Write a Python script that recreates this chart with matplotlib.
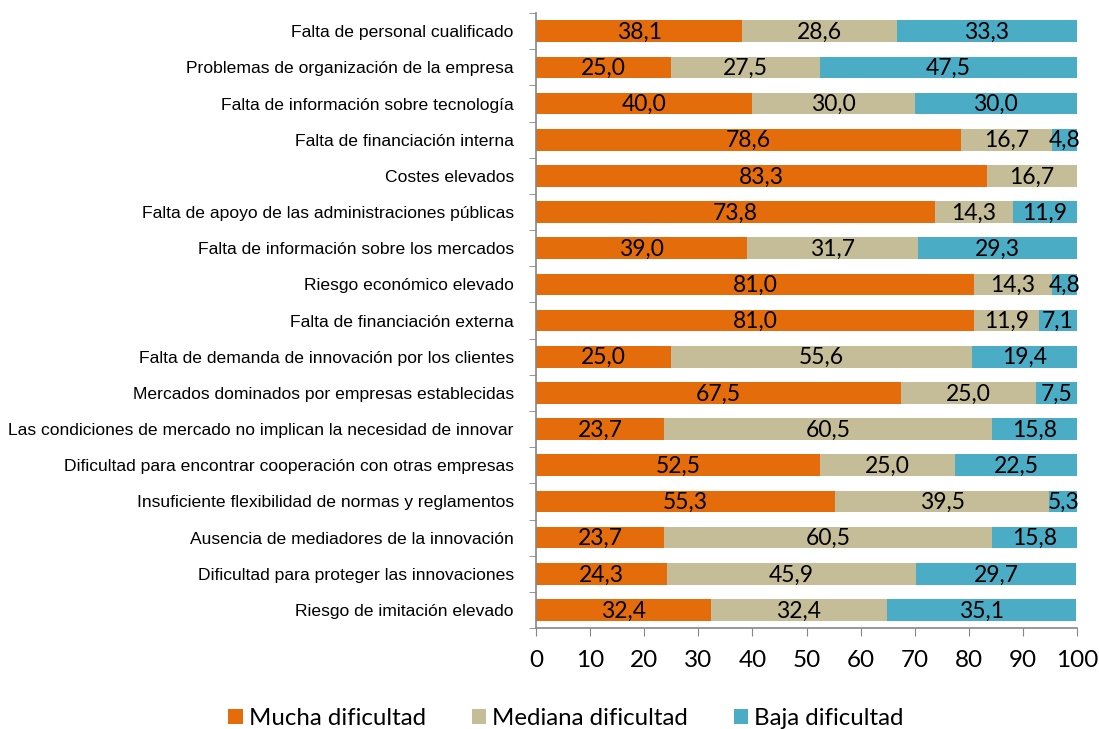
import matplotlib.pyplot as plt
import numpy as np

categories = [
    "Falta de personal cualificado",
    "Problemas de organización de la empresa",
    "Falta de información sobre tecnología",
    "Falta de financiación interna",
    "Costes elevados",
    "Falta de apoyo de las administraciones públicas",
    "Falta de información sobre los mercados",
    "Riesgo económico elevado",
    "Falta de financiación externa",
    "Falta de demanda de innovación por los clientes",
    "Mercados dominados por empresas establecidas",
    "Las condiciones de mercado no implican la necesidad de innovar",
    "Dificultad para encontrar cooperación con otras empresas",
    "Insuficiente flexibilidad de normas y reglamentos",
    "Ausencia de mediadores de la innovación",
    "Dificultad para proteger las innovaciones",
    "Riesgo de imitación elevado",
]
mucha = [38.1, 25.0, 40.0, 78.6, 83.3, 73.8, 39.0, 81.0, 81.0, 25.0, 67.5, 23.7, 52.5, 55.3, 23.7, 24.3, 32.4]
mediana = [28.6, 27.5, 30.0, 16.7, 16.7, 14.3, 31.7, 14.3, 11.9, 55.6, 25.0, 60.5, 25.0, 39.5, 60.5, 45.9, 32.4]
baja = [33.3, 47.5, 30.0, 4.8, 0.0, 11.9, 29.3, 4.8, 7.1, 19.4, 7.5, 15.8, 22.5, 5.3, 15.8, 29.7, 35.1]

series = [("Mucha dificultad", mucha, "#E46C0A"),
          ("Mediana dificultad", mediana, "#C4BD97"),
          ("Baja dificultad", baja, "#4BACC6")]

num_font = ["Lato", "DejaVu Sans"]
lab_font = ["Liberation Sans Narrow", "Liberation Sans", "DejaVu Sans"]

fig = plt.figure(figsize=(10.99, 7.29), dpi=100)
ax = fig.add_axes([0.4877, 0.1385, 0.4923, 0.8435])

y = np.arange(len(categories))
left = np.zeros(len(categories))
for name, vals, color in series:
    vals = np.array(vals)
    bars = ax.barh(y, vals, left=left, height=0.6, color=color, label=name)
    for rect, v in zip(bars, vals):
        if v > 0:
            ax.text(rect.get_x() + rect.get_width() / 2, rect.get_y() + rect.get_height() / 2 + 0.03,
                    f"{v:.1f}".replace(".", ","), ha="center", va="center",
                    fontsize=16.5, family=num_font, color="black")
    left += vals

ax.set_xlim(0, 100)
ax.set_ylim(len(categories) - 0.5, -0.5)
ax.set_xticks(np.arange(0, 101, 10))
ax.set_xticklabels([str(v) for v in range(0, 101, 10)], family=num_font, fontsize=17.5)
ax.set_yticks(y)
ax.set_yticklabels(categories, family=lab_font, fontsize=12.6)
ax.set_yticks(np.arange(-0.5, len(categories), 1), minor=True)
ax.tick_params(axis="y", which="major", length=0, pad=16)
ax.tick_params(axis="y", which="minor", length=5, direction="out", color="#868686")
ax.tick_params(axis="x", length=6, direction="out", color="#868686", pad=10)

for side in ["top", "right"]:
    ax.spines[side].set_visible(False)
for side in ["left", "bottom"]:
    ax.spines[side].set_color("#868686")
    ax.spines[side].set_linewidth(1.2)

fig.legend(loc="lower center", bbox_to_anchor=(0.515, -0.03), ncol=3, frameon=False,
           prop={"family": num_font, "size": 17.3}, handlelength=0.6, handleheight=0.6,
           handletextpad=0.25, columnspacing=1.9)

fig.savefig("out.png", dpi=100)
